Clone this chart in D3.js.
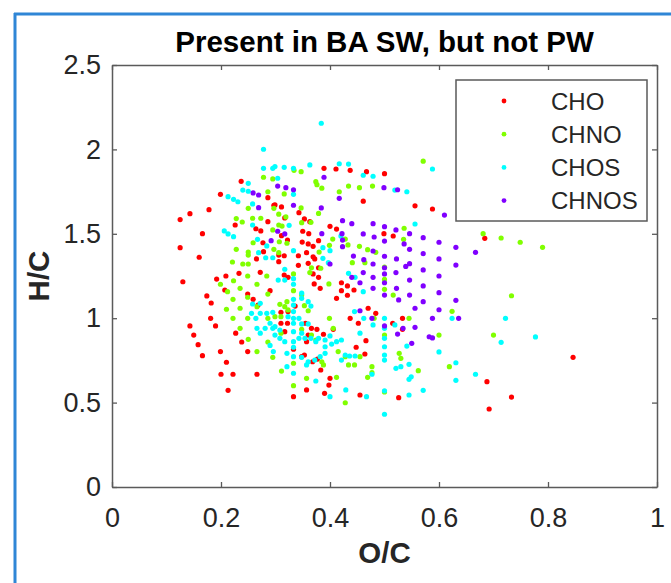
<!DOCTYPE html>
<html>
<head>
<meta charset="utf-8">
<script src="https://cdn.jsdelivr.net/npm/d3@7"></script>
<style>
  body { margin: 0; background: #fff; }
  text { font-family: "Liberation Sans", Arial, sans-serif; }
</style>
</head>
<body>
<svg id="chart" width="671" height="583"></svg>
<script>
// points: [O/C, H/C]
const cho = [
  [0.237,1.811],[0.199,1.734],[0.286,1.714],[0.178,1.643],[0.143,1.619],[0.125,1.584],[0.297,1.669],[0.286,1.572],
  [0.226,1.552],[0.166,1.501],[0.264,1.530],[0.273,1.517],[0.125,1.418],[0.160,1.361],[0.277,1.447],[0.265,1.351],
  [0.278,1.394],[0.389,1.888],[0.411,1.884],[0.437,1.876],[0.467,1.868],[0.500,1.856],[0.461,1.693],[0.556,1.666],
  [0.299,1.671],[0.311,1.659],[0.343,1.625],[0.317,1.594],[0.353,1.588],[0.363,1.572],[0.400,1.544],[0.412,1.528],
  [0.350,1.515],[0.361,1.501],[0.499,1.501],[0.516,1.487],[0.311,1.489],[0.322,1.463],[0.349,1.451],[0.360,1.440],
  [0.369,1.426],[0.379,1.459],[0.306,1.374],[0.316,1.370],[0.357,1.388],[0.369,1.364],[0.342,1.370],[0.306,1.335],
  [0.342,1.313],[0.360,1.325],[0.372,1.351],[0.379,1.299],[0.588,1.647],[0.684,1.473],
  [0.130,1.216],[0.192,1.232],[0.209,1.250],[0.233,1.266],[0.207,1.167],[0.174,1.132],[0.182,1.090],[0.249,1.143],
  [0.259,1.112],[0.290,1.163],[0.181,0.999],[0.190,0.954],[0.143,0.954],[0.150,0.900],[0.158,0.843],[0.166,0.778],
  [0.227,0.911],[0.238,0.859],[0.199,0.802],[0.249,0.802],[0.210,0.739],[0.200,0.668],[0.222,0.668],[0.266,0.668],
  [0.213,0.573],[0.268,1.078],[0.272,1.272],
  [0.316,1.256],[0.323,1.242],[0.369,1.262],[0.379,1.242],[0.371,1.203],[0.382,1.177],[0.421,1.210],[0.432,1.191],
  [0.421,1.163],[0.432,1.136],[0.444,1.167],[0.412,1.118],[0.310,1.035],[0.323,1.039],[0.336,1.072],[0.310,0.970],
  [0.322,0.970],[0.317,0.920],[0.355,0.970],[0.366,0.940],[0.376,0.934],[0.360,0.900],[0.357,0.861],[0.388,0.905],
  [0.406,0.934],[0.437,0.999],[0.452,0.970],[0.470,1.059],[0.484,1.029],[0.466,0.867],[0.448,0.828],[0.464,0.788],
  [0.333,0.816],[0.353,0.782],[0.368,0.742],[0.377,0.758],[0.383,0.693],[0.400,0.644],[0.398,0.604],[0.357,0.575],
  [0.390,0.555],[0.333,0.535],[0.455,0.545],[0.515,0.970],[0.533,0.999],[0.526,0.529],[0.533,0.934],[0.348,0.772],
  [0.846,0.768],[0.688,0.624],[0.733,0.533],[0.692,0.462]
];

const chno = [
  [0.278,1.835],[0.295,1.825],[0.286,1.749],[0.250,1.651],[0.297,1.651],[0.228,1.590],[0.239,1.570],[0.258,1.592],
  [0.273,1.592],[0.259,1.447],[0.228,1.408],[0.250,1.392],[0.250,1.374],[0.221,1.333],[0.240,1.321],[0.250,1.321],
  [0.295,1.523],[0.297,1.408],
  [0.334,1.876],[0.347,1.868],[0.571,1.930],[0.374,1.809],[0.376,1.791],[0.385,1.770],[0.434,1.783],[0.454,1.773],
  [0.478,1.783],[0.316,1.736],[0.417,1.749],[0.347,1.653],[0.379,1.621],[0.306,1.616],[0.319,1.600],[0.306,1.552],
  [0.312,1.546],[0.348,1.566],[0.365,1.568],[0.536,1.533],[0.535,1.467],[0.405,1.469],[0.428,1.469],[0.433,1.434],
  [0.399,1.432],[0.307,1.453],[0.321,1.444],[0.454,1.426],[0.469,1.406],[0.484,1.390],[0.306,1.388],[0.380,1.392],
  [0.441,1.329],[0.464,1.329],[0.366,1.299],[0.383,1.296],
  [0.681,1.501],[0.714,1.475],[0.749,1.450],[0.790,1.420],
  [0.249,1.250],[0.199,1.201],[0.212,1.157],[0.223,1.222],[0.266,1.201],[0.284,1.250],[0.286,1.143],[0.235,1.177],
  [0.222,1.112],[0.249,1.124],[0.210,1.053],[0.235,1.059],[0.266,1.068],[0.222,0.999],[0.249,0.999],[0.286,0.999],
  [0.235,0.940],[0.250,0.875],[0.286,0.859],[0.266,0.802],[0.295,0.768],
  [0.308,1.082],[0.321,1.098],[0.317,1.068],[0.323,1.049],[0.348,1.137],[0.353,1.074],[0.360,1.044],[0.333,1.163],
  [0.333,1.262],[0.363,1.270],[0.398,1.203],[0.299,1.009],[0.310,1.009],[0.348,0.934],[0.310,0.911],[0.366,0.900],
  [0.374,0.871],[0.399,0.999],[0.406,0.940],[0.415,0.802],[0.428,0.772],[0.434,0.723],[0.445,0.723],[0.455,0.772],
  [0.385,0.742],[0.388,0.723],[0.311,0.687],[0.333,0.733],[0.357,0.644],[0.333,0.600],[0.412,0.650],[0.428,0.499],
  [0.469,0.650],[0.477,0.677],[0.477,0.713],[0.500,0.900],[0.500,1.171],[0.500,1.230],[0.516,1.137],[0.527,0.792],
  [0.530,0.762],[0.562,0.689],[0.545,0.999],[0.500,0.563],[0.500,1.302],[0.481,0.999],
  [0.733,1.133],[0.624,1.041],[0.600,0.900],[0.700,0.900],[0.619,0.713]
];

const chos = [
  [0.278,2.001],[0.278,1.888],[0.295,1.888],[0.250,1.799],[0.240,1.759],[0.250,1.752],[0.213,1.720],[0.223,1.704],
  [0.231,1.690],[0.258,1.677],[0.206,1.517],[0.213,1.499],[0.223,1.483],[0.258,1.552],[0.267,1.467],[0.284,1.428],
  [0.269,1.388],[0.282,1.358],[0.295,1.358],
  [0.384,2.155],[0.299,1.898],[0.316,1.894],[0.333,1.888],[0.363,1.908],[0.417,1.915],[0.434,1.913],[0.304,1.829],
  [0.461,1.847],[0.479,1.841],[0.333,1.734],[0.519,1.759],[0.541,1.749],[0.556,1.558],[0.325,1.550],[0.420,1.487],
  [0.387,1.418],[0.400,1.400],[0.333,1.400],[0.387,1.355],[0.397,1.329],[0.317,1.290],[0.588,1.884],
  [0.258,1.084],[0.272,1.088],[0.256,1.029],[0.272,1.029],[0.284,1.029],[0.295,1.035],[0.264,0.999],[0.266,0.940],
  [0.272,0.911],[0.281,0.940],[0.295,0.940],[0.290,0.970],[0.290,0.839],[0.296,0.802],
  [0.305,1.226],[0.317,1.226],[0.333,1.234],[0.333,1.201],[0.348,1.148],[0.348,1.118],[0.360,1.098],[0.365,1.072],
  [0.333,1.112],[0.333,1.078],[0.333,1.039],[0.323,1.009],[0.333,0.999],[0.343,0.999],[0.348,0.966],[0.360,0.966],
  [0.333,0.970],[0.299,0.950],[0.308,0.930],[0.299,0.900],[0.308,0.881],[0.317,0.861],[0.333,0.920],[0.348,0.911],
  [0.343,0.881],[0.354,0.881],[0.365,0.881],[0.374,0.861],[0.333,0.861],[0.333,0.828],[0.379,0.881],[0.391,0.871],
  [0.400,0.895],[0.391,0.831],[0.403,0.847],[0.412,0.861],[0.421,0.871],[0.321,0.792],[0.333,0.772],[0.348,0.768],
  [0.360,0.742],[0.372,0.752],[0.382,0.772],[0.391,0.792],[0.321,0.713],[0.333,0.674],[0.357,0.723],[0.374,0.628],
  [0.400,0.535],[0.429,0.575],[0.467,0.535],[0.428,0.782],[0.436,0.776],[0.446,0.776],[0.421,0.752],[0.445,1.039],
  [0.462,0.999],[0.479,0.960],[0.455,0.911],[0.461,1.157],[0.446,1.242],[0.434,1.266],[0.500,0.999],[0.500,0.940],
  [0.500,0.881],[0.500,0.831],[0.500,0.782],[0.500,0.752],[0.500,0.570],[0.500,0.431],[0.541,0.835],[0.545,0.727],
  [0.521,0.703],[0.530,0.713],[0.545,0.638],[0.549,0.653],[0.545,0.545],[0.519,0.960],[0.477,0.668],
  [0.624,0.999],[0.722,0.999],[0.714,0.857],[0.777,0.889],[0.600,0.800],[0.631,0.736],[0.667,0.668],[0.631,0.632],
  [0.571,0.573]
];

const chnos = [
  [0.259,1.742],[0.269,1.730],[0.269,1.655],[0.292,1.459],
  [0.389,1.835],[0.304,1.783],[0.319,1.773],[0.333,1.761],[0.417,1.710],[0.499,1.773],[0.524,1.761],[0.333,1.669],
  [0.384,1.653],[0.423,1.578],[0.440,1.560],[0.479,1.560],[0.500,1.542],[0.521,1.523],[0.546,1.501],[0.571,1.477],
  [0.385,1.501],[0.304,1.515],[0.317,1.499],[0.422,1.501],[0.423,1.463],[0.461,1.499],[0.481,1.481],[0.500,1.457],
  [0.536,1.440],[0.423,1.424],[0.546,1.408],[0.479,1.398],[0.443,1.368],[0.462,1.347],[0.500,1.367],[0.522,1.351],
  [0.571,1.382],[0.479,1.321],[0.500,1.299],[0.539,1.307],[0.546,1.323],[0.400,1.321],
  [0.610,1.611],[0.600,1.450],[0.631,1.420],[0.667,1.390],[0.600,1.351],[0.631,1.315],
  [0.440,1.242],[0.455,1.210],[0.461,1.270],[0.479,1.242],[0.479,1.177],[0.500,1.262],[0.500,1.210],[0.500,1.137],
  [0.522,1.177],[0.546,1.226],[0.546,1.137],[0.571,1.191],[0.571,1.098],[0.521,1.270],[0.455,1.044],[0.477,0.999],
  [0.500,0.954],[0.524,0.906],[0.534,0.940],[0.556,0.946],[0.550,0.851],[0.556,1.059],[0.582,0.890],[0.571,1.286],
  [0.526,1.108],
  [0.600,1.250],[0.600,1.151],[0.631,1.106],[0.600,1.050],[0.588,0.999],[0.636,0.999],[0.588,0.883]
];

const seriesNames = ['CHO', 'CHNO', 'CHOS', 'CHNOS'];
const seriesColors = ['#ff0000', '#80ff00', '#00ffff', '#8000ff'];
const xTicks = [0, 0.2, 0.4, 0.6, 0.8, 1];
const xTickLabels = ['0', '0.2', '0.4', '0.6', '0.8', '1'];
const yTicks = [0, 0.5, 1, 1.5, 2, 2.5];
const yTickLabels = ['0', '0.5', '1', '1.5', '2', '2.5'];

const width = 671, height = 583;
const margin = { top: 65, right: 14, bottom: 96, left: 112 };
const axisColor = '#5a5a5a';

const svg = d3.select('#chart');

// blue selection frame around the figure
svg.append('line').attr('x1', 15).attr('x2', 15).attr('y1', 13).attr('y2', height)
  .attr('stroke', '#2f86d6').attr('stroke-width', 3);
svg.append('line').attr('x1', 14).attr('x2', width).attr('y1', 14).attr('y2', 14)
  .attr('stroke', '#2f86d6').attr('stroke-width', 3);

const x = d3.scaleLinear().domain([0, 1]).range([margin.left, width - margin.right]);
const y = d3.scaleLinear().domain([0, 2.5]).range([height - margin.bottom, margin.top]);

const styleAxis = (g) => {
  g.select('.domain').attr('stroke', axisColor).attr('stroke-width', 1.5);
  g.selectAll('.tick line').attr('stroke', axisColor).attr('stroke-width', 1.3);
  g.selectAll('.tick text').attr('fill', '#262626').attr('font-size', 27);
};

svg.append('g')
  .attr('transform', `translate(0,${y(0)})`)
  .call(d3.axisBottom(x).tickValues(xTicks).tickFormat((d, i) => xTickLabels[i])
    .tickSizeInner(-5).tickSizeOuter(0).tickPadding(21))
  .call(styleAxis);

svg.append('g')
  .attr('transform', `translate(0,${y(2.5)})`)
  .call(d3.axisTop(x).tickValues(xTicks).tickFormat('').tickSizeInner(-5).tickSizeOuter(0))
  .call(styleAxis);

svg.append('g')
  .attr('transform', `translate(${x(0)},0)`)
  .call(d3.axisLeft(y).tickValues(yTicks).tickFormat((d, i) => yTickLabels[i])
    .tickSizeInner(-5).tickSizeOuter(0).tickPadding(11))
  .call(styleAxis);

svg.append('g')
  .attr('transform', `translate(${x(1)},0)`)
  .call(d3.axisRight(y).tickValues(yTicks).tickFormat('').tickSizeInner(-5).tickSizeOuter(0))
  .call(styleAxis);

// scatter, drawn in legend order so later series sit on top
const allSeries = [cho, chno, chos, chnos];
allSeries.forEach((pts, i) => {
  svg.append('g')
    .selectAll('circle')
    .data(pts)
    .enter()
    .append('circle')
    .attr('cx', d => x(d[0]))
    .attr('cy', d => y(d[1]))
    .attr('r', 2.6)
    .attr('fill', seriesColors[i]);
});

// title and axis labels
svg.append('text')
  .attr('x', (x(0) + x(1)) / 2).attr('y', 52)
  .attr('text-anchor', 'middle').attr('font-size', 29.5).attr('font-weight', 'bold')
  .attr('fill', '#000')
  .text('Present in BA SW, but not PW');

svg.append('text')
  .attr('x', (x(0) + x(1)) / 2).attr('y', 563)
  .attr('text-anchor', 'middle').attr('font-size', 29.5).attr('font-weight', 'bold')
  .attr('fill', '#262626')
  .text('O/C');

svg.append('text')
  .attr('transform', `translate(49,${(y(0) + y(2.5)) / 2}) rotate(-90)`)
  .attr('text-anchor', 'middle').attr('font-size', 29.5).attr('font-weight', 'bold')
  .attr('fill', '#262626')
  .text('H/C');

// legend
const legend = svg.append('g');
legend.append('rect')
  .attr('x', 456).attr('y', 80).attr('width', 191).attr('height', 141)
  .attr('fill', '#fff').attr('stroke', axisColor).attr('stroke-width', 1.5);

seriesNames.forEach((name, i) => {
  const ly = 101 + i * 33.2;
  legend.append('circle')
    .attr('cx', 504).attr('cy', ly).attr('r', 2.4)
    .attr('fill', seriesColors[i]);
  legend.append('text')
    .attr('x', 551).attr('y', ly)
    .attr('dominant-baseline', 'central')
    .attr('font-size', 24).attr('fill', '#262626')
    .text(name);
});
</script>
</body>
</html>
